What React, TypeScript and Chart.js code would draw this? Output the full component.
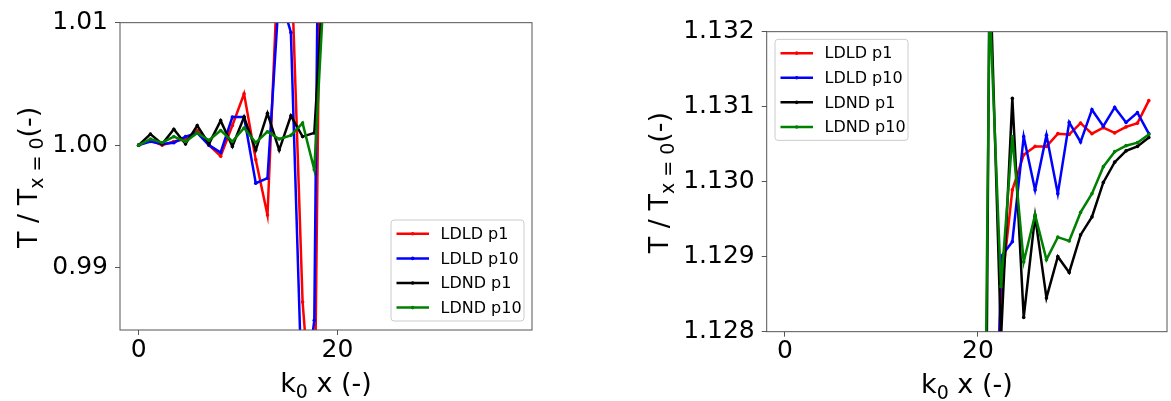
import React, { useEffect, useRef } from "react";
import { Chart, registerables } from "chart.js";

Chart.register(...registerables);

// ---------- data ----------
const kx = [
  0, 1.178, 2.356, 3.534, 4.712, 5.89, 7.069, 8.247, 9.425, 10.603, 11.781,
  12.959, 14.137, 15.315, 16.493, 17.671, 18.85, 20.028, 21.206, 22.384,
  23.562, 24.74, 25.918, 27.096, 28.274, 29.452, 30.631, 31.809, 32.987,
  34.165, 35.343, 36.521, 37.699,
];

const ldldP1 = [
  1.0, 1.0004, 1.0, 1.0003, 1.0005, 1.0012, 1.0, 0.9991, 1.0016, 1.0042,
  0.9988, 0.9943, 1.017, 1.016, 0.9872, 0.975, 1.059, 1.1, 1.1249, 1.12851,
  1.12989, 1.13036, 1.13047, 1.13047, 1.13064, 1.13063, 1.13078, 1.13064,
  1.13072, 1.13065, 1.13073, 1.13078, 1.13108,
];

const ldldP10 = [
  1.0, 1.0003, 1.0001, 1.0002, 1.0007, 1.001, 1.0, 0.9994, 1.0023, 1.0023,
  0.9969, 0.9973, 1.0125, 1.0092, 0.978, 0.9857, 1.083, 1.095, 1.1213, 1.129,
  1.1292, 1.1306, 1.12989, 1.13062, 1.12984, 1.13079, 1.13053, 1.13096,
  1.13074, 1.13099, 1.13079, 1.13092, 1.13064,
];

const lndP1 = [
  1.0, 1.0009, 1.0001, 1.0013, 1.0001, 1.0016, 1.0001, 1.002, 0.9999, 1.0023,
  0.9996, 1.0026, 0.9996, 1.0024, 1.0007, 1.001, 1.017, 1.112, 1.133, 1.1279,
  1.13111, 1.12819, 1.12954, 1.12845, 1.129, 1.12879, 1.12929, 1.12953,
  1.12999, 1.13026, 1.13041, 1.13047, 1.13059,
];

const lndP10 = [
  1.0, 1.0005, 1.0002, 1.0007, 1.0003, 1.001, 1.0004, 1.0012, 1.0003, 1.0014,
  1.0002, 1.0011, 1.0005, 1.0008, 1.0018, 0.998, 1.016, 1.1177, 1.1324,
  1.1286, 1.1306, 1.12893, 1.12956, 1.12896, 1.12926, 1.12921, 1.12959,
  1.12984, 1.1302, 1.1304, 1.13048, 1.13052, 1.13063,
];

const seriesNames = ["LDLD p1", "LDLD p10", "LDND p1", "LDND p10"];
const seriesValues = [ldldP1, ldldP10, lndP1, lndP10];
const seriesColors = ["#ff0000", "#0000ff", "#000000", "#008000"];

const xRange = [-1.885, 39.584];
const xTickValues = [0, 20];
const leftYRange = [0.98491, 1.01];
const leftYTicks = [0.99, 1.0, 1.01];
const rightYRange = [1.128, 1.132];
const rightYTicks = [1.128, 1.129, 1.13, 1.131, 1.132];

// ---------- styling ----------
const FONT = "'DejaVu Sans', sans-serif";
const TICK_SIZE = 25;
const TITLE_SIZE = 27;
const SUB_SIZE = 19;
const LEGEND_SIZE = 16;
const H = 401;

type Part = { t: string; size: number; dy: number };

function drawRich(ctx: CanvasRenderingContext2D, parts: Part[], x: number, y: number, rotated: boolean) {
  ctx.save();
  ctx.translate(x, y);
  if (rotated) ctx.rotate(-Math.PI / 2);
  ctx.textBaseline = "alphabetic";
  ctx.textAlign = "left";
  ctx.fillStyle = "#000";
  const widths = parts.map((p) => {
    ctx.font = `${p.size}px ${FONT}`;
    return ctx.measureText(p.t).width;
  });
  const total = widths.reduce((a, b) => a + b, 0);
  let cx = -total / 2;
  parts.forEach((p, i) => {
    ctx.font = `${p.size}px ${FONT}`;
    ctx.fillText(p.t, cx, p.dy);
    cx += widths[i];
  });
  ctx.restore();
}

type PanelSpec = {
  canvasWidth: number;
  area: { left: number; top: number; right: number; bottom: number };
  yRange: number[];
  yTicks: number[];
  decimals: number;
  legendLoc: "lower right" | "upper left";
};

const leftPanel: PanelSpec = {
  canvasWidth: 580,
  area: { left: 120, top: 22.67, right: 532, bottom: 330 },
  yRange: leftYRange,
  yTicks: leftYTicks,
  decimals: 2,
  legendLoc: "lower right",
};

const rightPanel: PanelSpec = {
  canvasWidth: 591,
  area: { left: 186.7, top: 31.67, right: 589.3, bottom: 331.67 },
  yRange: rightYRange,
  yTicks: rightYTicks,
  decimals: 3,
  legendLoc: "upper left",
};

function makeChart(canvas: HTMLCanvasElement, spec: PanelSpec) {
  const X_AXIS_H = 40;
  const a = spec.area;

  const decorPlugin = {
    id: "decor",
    afterDatasetsDraw(chart: any) {
      const ctx: CanvasRenderingContext2D = chart.ctx;
      const ca = chart.chartArea;
      ctx.save();
      ctx.strokeStyle = "#555555";
      ctx.lineWidth = 1;
      ctx.strokeRect(ca.left, ca.top, ca.right - ca.left, ca.bottom - ca.top);
      ctx.restore();
    },
    afterDraw(chart: any) {
      const ctx: CanvasRenderingContext2D = chart.ctx;
      const ca = chart.chartArea;
      // y title: left of tick labels
      ctx.save();
      ctx.font = `${TICK_SIZE}px ${FONT}`;
      const wMax = Math.max(...spec.yTicks.map((v) => ctx.measureText(v.toFixed(spec.decimals)).width));
      ctx.restore();
      const yTitleX = ca.left - 5 - 7 - wMax - 15;
      drawRich(
        ctx,
        [
          { t: "T / T", size: TITLE_SIZE, dy: 0 },
          { t: "x = 0", size: SUB_SIZE, dy: 6 },
          { t: "(-)", size: TITLE_SIZE, dy: 0 },
        ],
        yTitleX,
        (ca.top + ca.bottom) / 2 + 1,
        true
      );
      // x title
      drawRich(
        ctx,
        [
          { t: "k", size: TITLE_SIZE, dy: 0 },
          { t: "0", size: SUB_SIZE, dy: 6 },
          { t: " x (-)", size: TITLE_SIZE, dy: 0 },
        ],
        (ca.left + ca.right) / 2,
        ca.bottom + 61.5,
        false
      );
      // legend
      const bw = 133;
      const bh = 101;
      let bx: number, by: number;
      if (spec.legendLoc === "lower right") {
        bx = ca.right - 8 - bw;
        by = ca.bottom - 9 - bh;
      } else {
        bx = ca.left + 8.3;
        by = ca.top + 7.7;
      }
      ctx.save();
      const r = 3;
      ctx.beginPath();
      ctx.moveTo(bx + r, by);
      ctx.arcTo(bx + bw, by, bx + bw, by + bh, r);
      ctx.arcTo(bx + bw, by + bh, bx, by + bh, r);
      ctx.arcTo(bx, by + bh, bx, by, r);
      ctx.arcTo(bx, by, bx + bw, by, r);
      ctx.closePath();
      ctx.fillStyle = "rgba(255,255,255,0.85)";
      ctx.fill();
      ctx.strokeStyle = "#cccccc";
      ctx.lineWidth = 1;
      ctx.stroke();
      ctx.font = `${LEGEND_SIZE}px ${FONT}`;
      ctx.textBaseline = "middle";
      ctx.textAlign = "left";
      seriesNames.forEach((name, i) => {
        const yy = by + 13.8 + i * 24.6;
        ctx.strokeStyle = seriesColors[i];
        ctx.lineWidth = 2.5;
        ctx.beginPath();
        ctx.moveTo(bx + 5.5, yy);
        ctx.lineTo(bx + 38, yy);
        ctx.stroke();
        ctx.fillStyle = seriesColors[i];
        ctx.beginPath();
        ctx.arc(bx + 21.7, yy, 1.8, 0, Math.PI * 2);
        ctx.fill();
        ctx.fillStyle = "#000";
        ctx.fillText(name, bx + 49.5, yy + 1);
      });
      ctx.restore();
    },
  };

  const datasets = seriesNames.map((name, k) => ({
    label: name,
    data: kx.map((x, i) => ({ x, y: seriesValues[k][i] })),
    borderColor: seriesColors[k],
    backgroundColor: seriesColors[k],
    pointBackgroundColor: seriesColors[k],
    pointBorderWidth: 0,
    pointRadius: 1.8,
    borderWidth: 2.5,
    tension: 0,
    clip: 0,
    order: 4 - k,
  }));

  return new Chart(canvas, {
    type: "line",
    data: { datasets },
    options: {
      animation: false,
      responsive: false,
      events: [],
      layout: {
        padding: {
          left: 0,
          top: a.top,
          right: spec.canvasWidth - a.right,
          bottom: H - a.bottom - X_AXIS_H,
        },
      },
      plugins: { legend: { display: false }, tooltip: { enabled: false } },
      scales: {
        x: {
          type: "linear",
          min: xRange[0],
          max: xRange[1],
          afterBuildTicks: (s: any) => {
            s.ticks = xTickValues.map((v) => ({ value: v }));
          },
          afterFit: (s: any) => {
            s.height = X_AXIS_H;
          },
          ticks: {
            font: { family: FONT, size: TICK_SIZE },
            color: "#000",
            padding: 0,
            maxRotation: 0,
            autoSkip: false,
            callback: (v: any) => String(v),
          },
          grid: { drawOnChartArea: false, tickLength: 5, color: "#555555", tickWidth: 1 },
          border: { display: false },
        },
        y: {
          type: "linear",
          min: spec.yRange[0],
          max: spec.yRange[1],
          afterBuildTicks: (s: any) => {
            s.ticks = spec.yTicks.map((v) => ({ value: v }));
          },
          afterFit: (s: any) => {
            s.width = a.left;
          },
          ticks: {
            font: { family: FONT, size: TICK_SIZE },
            color: "#000",
            padding: 7,
            autoSkip: false,
            callback: (v: any) => Number(v).toFixed(spec.decimals),
          },
          grid: { drawOnChartArea: false, tickLength: 5, color: "#555555", tickWidth: 1 },
          border: { display: false },
        },
      },
    } as any,
    plugins: [decorPlugin],
  });
}

export default function App() {
  const leftRef = useRef<HTMLCanvasElement>(null);
  const rightRef = useRef<HTMLCanvasElement>(null);

  useEffect(() => {
    const c1 = makeChart(leftRef.current!, leftPanel);
    const c2 = makeChart(rightRef.current!, rightPanel);
    return () => {
      c1.destroy();
      c2.destroy();
    };
  }, []);

  return (
    <div style={{ position: "fixed", left: 0, top: 0, width: 1171, height: H, background: "#fff" }}>
      <canvas
        ref={leftRef}
        width={leftPanel.canvasWidth}
        height={H}
        style={{ position: "absolute", left: 0, top: 0, width: leftPanel.canvasWidth, height: H }}
      />
      <canvas
        ref={rightRef}
        width={rightPanel.canvasWidth}
        height={H}
        style={{ position: "absolute", left: 580, top: 0, width: rightPanel.canvasWidth, height: H }}
      />
    </div>
  );
}
